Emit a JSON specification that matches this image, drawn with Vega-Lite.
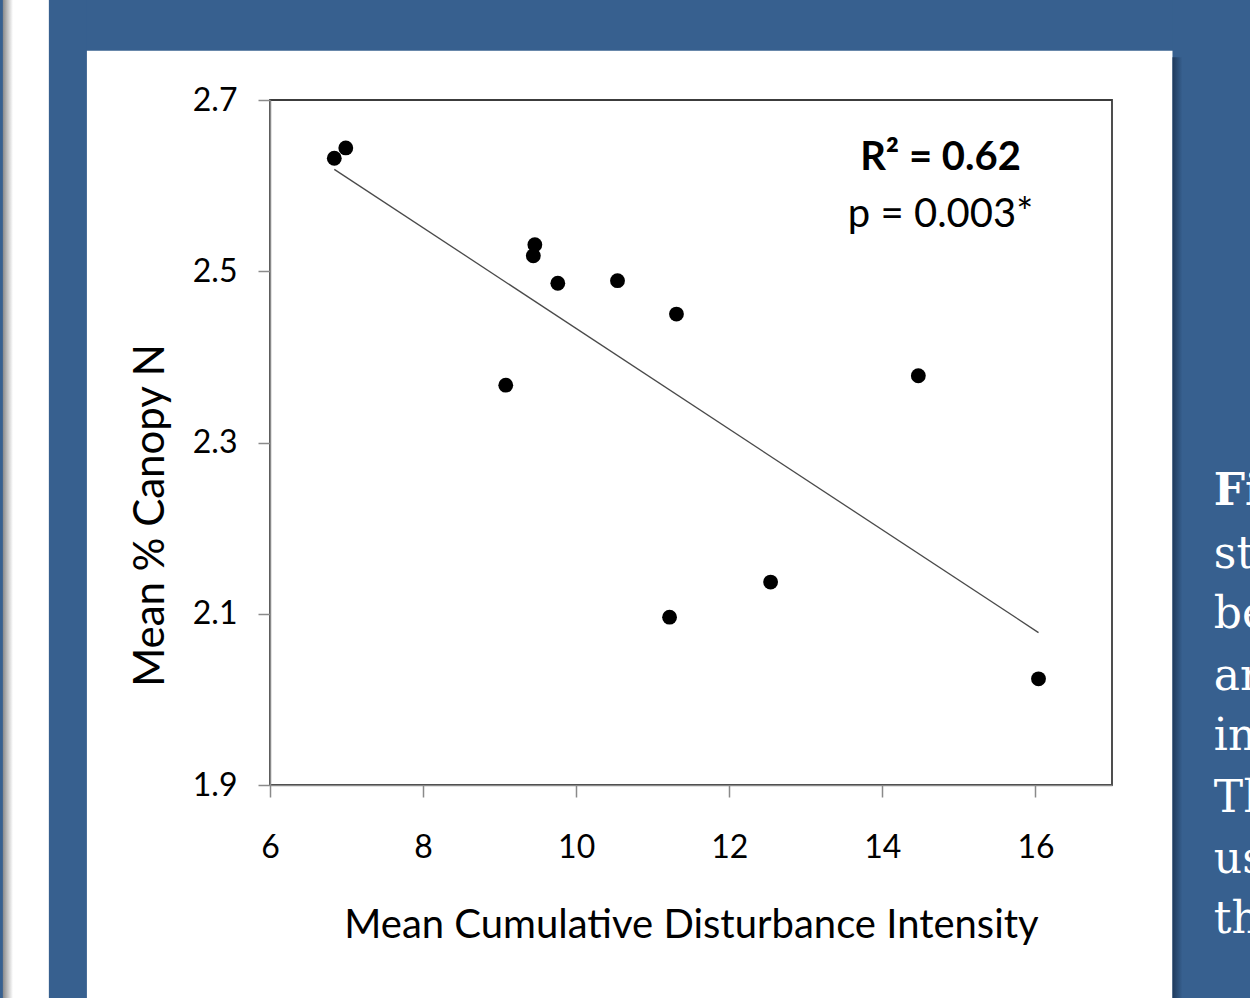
{
  "$schema": "https://vega.github.io/schema/vega-lite/v6.json",
  "width": 842,
  "height": 685,
  "autosize": {"type": "none"},
  "padding": {"left": 270, "top": 100, "right": 138, "bottom": 213},
  "background": "#ffffff",
  "config": {
    "view": {"stroke": "#3c3c3c", "strokeWidth": 1.8},
    "axis": {
      "grid": false, "tickSize": 12, "tickColor": "#8a8a8a", "tickWidth": 1.5,
      "domainColor": "#8a8a8a", "domainWidth": 1.5, "labelFlush": false, "labelOverlap": false,
      "labelFont": "Lato", "labelFontSize": 32, "labelColor": "#000000",
      "titleFont": "Lato", "titleFontSize": 40, "titleFontWeight": "normal", "titleColor": "#000000"
    },
    "axisX": {"labelPadding": 35, "titlePadding": 42},
    "axisY": {"labelPadding": 21, "titlePadding": 20, "titleY": 415, "titleFontSize": 42}
  },
  "datasets": {
    "points": [
      {"disturbance": 6.84, "canopyN": 2.632},
      {"disturbance": 6.99, "canopyN": 2.644},
      {"disturbance": 9.08, "canopyN": 2.367},
      {"disturbance": 9.44, "canopyN": 2.518},
      {"disturbance": 9.46, "canopyN": 2.531},
      {"disturbance": 9.76, "canopyN": 2.486},
      {"disturbance": 10.54, "canopyN": 2.489},
      {"disturbance": 11.31, "canopyN": 2.45},
      {"disturbance": 11.22, "canopyN": 2.096},
      {"disturbance": 12.54, "canopyN": 2.137},
      {"disturbance": 14.47, "canopyN": 2.378},
      {"disturbance": 16.04, "canopyN": 2.024}
    ],
    "trend": [
      {"disturbance": 6.84, "canopyN": 2.619},
      {"disturbance": 16.04, "canopyN": 2.078}
    ],
    "stats": [
      {"label": "R² = 0.62", "disturbance": 14.76, "canopyN": 2.632, "kind": "r2"},
      {"label": "p = 0.003*", "disturbance": 14.76, "canopyN": 2.566, "kind": "p"}
    ],
    "caption": [
      {"line": "Figure 2.", "disturbance": 18.33, "canopyN": 2.2271, "bold": true},
      {"line": "strong", "disturbance": 18.33, "canopyN": 2.1535, "bold": false},
      {"line": "between", "disturbance": 18.33, "canopyN": 2.0834, "bold": false},
      {"line": "and", "disturbance": 18.33, "canopyN": 2.011, "bold": false},
      {"line": "intensity.", "disturbance": 18.33, "canopyN": 1.9409, "bold": false},
      {"line": "The", "disturbance": 18.33, "canopyN": 1.8685, "bold": false},
      {"line": "used", "disturbance": 18.33, "canopyN": 1.7972, "bold": false},
      {"line": "the", "disturbance": 18.33, "canopyN": 1.7271, "bold": false}
    ]
  },
  "layer": [
    {
      "data": {"values": [{}]},
      "mark": {"type": "rect", "fill": "#37608f"},
      "encoding": {
        "x": {"datum": 2.4706, "type": "quantitative", "scale": {"domain": [6, 17], "nice": false, "zero": false}, "axis": {"values": [6, 8, 10, 12, 14, 16], "title": "Mean Cumulative Disturbance Intensity"}},
        "x2": {"datum": 18.81},
        "y": {"datum": 2.817, "type": "quantitative", "scale": {"domain": [1.9, 2.7], "nice": false, "zero": false}, "axis": {"values": [1.9, 2.1, 2.3, 2.5, 2.7], "format": ".1f", "title": "Mean % Canopy N"}},
        "y2": {"datum": 2.7575}
      }
    },
    {
      "data": {"values": [{}]},
      "mark": {"type": "rect", "fill": "#37608f"},
      "encoding": {
        "x": {"datum": 2.4706, "type": "quantitative", "scale": {"domain": [6, 17], "nice": false, "zero": false}, "axis": {"values": [6, 8, 10, 12, 14, 16], "title": "Mean Cumulative Disturbance Intensity"}},
        "x2": {"datum": 3.608},
        "y": {"datum": 2.817, "type": "quantitative", "scale": {"domain": [1.9, 2.7], "nice": false, "zero": false}, "axis": {"values": [1.9, 2.1, 2.3, 2.5, 2.7], "format": ".1f", "title": "Mean % Canopy N"}},
        "y2": {"datum": 1.651}
      }
    },
    {
      "data": {"values": [{}]},
      "mark": {"type": "rect", "fill": "#37608f"},
      "encoding": {
        "x": {"datum": 17.79, "type": "quantitative", "scale": {"domain": [6, 17], "nice": false, "zero": false}, "axis": {"values": [6, 8, 10, 12, 14, 16], "title": "Mean Cumulative Disturbance Intensity"}},
        "x2": {"datum": 18.81},
        "y": {"datum": 2.817, "type": "quantitative", "scale": {"domain": [1.9, 2.7], "nice": false, "zero": false}, "axis": {"values": [1.9, 2.1, 2.3, 2.5, 2.7], "format": ".1f", "title": "Mean % Canopy N"}},
        "y2": {"datum": 1.651}
      }
    },
    {
      "data": {"values": [{}]},
      "mark": {"type": "rect", "fill": {"gradient": "linear", "x1": 0, "x2": 1, "y1": 0, "y2": 0, "stops": [{"offset": 0, "color": "#8a8a8a"}, {"offset": 0.22, "color": "#ffffff"}, {"offset": 1, "color": "#ffffff"}]}},
      "encoding": {
        "x": {"datum": 2.51, "type": "quantitative", "scale": {"domain": [6, 17], "nice": false, "zero": false}, "axis": {"values": [6, 8, 10, 12, 14, 16], "title": "Mean Cumulative Disturbance Intensity"}},
        "x2": {"datum": 3.111},
        "y": {"datum": 2.817, "type": "quantitative", "scale": {"domain": [1.9, 2.7], "nice": false, "zero": false}, "axis": {"values": [1.9, 2.1, 2.3, 2.5, 2.7], "format": ".1f", "title": "Mean % Canopy N"}},
        "y2": {"datum": 1.651}
      }
    },
    {
      "data": {"values": [{}]},
      "mark": {"type": "rect", "fill": {"gradient": "linear", "x1": 0, "x2": 1, "y1": 0, "y2": 0, "stops": [{"offset": 0, "color": "#1f3a5c"}, {"offset": 1, "color": "#37608f"}]}},
      "encoding": {
        "x": {"datum": 17.79, "type": "quantitative", "scale": {"domain": [6, 17], "nice": false, "zero": false}, "axis": {"values": [6, 8, 10, 12, 14, 16], "title": "Mean Cumulative Disturbance Intensity"}},
        "x2": {"datum": 17.92},
        "y": {"datum": 2.75, "type": "quantitative", "scale": {"domain": [1.9, 2.7], "nice": false, "zero": false}, "axis": {"values": [1.9, 2.1, 2.3, 2.5, 2.7], "format": ".1f", "title": "Mean % Canopy N"}},
        "y2": {"datum": 1.651}
      }
    },
    {
      "data": {"name": "trend"},
      "mark": {"type": "line", "stroke": "#4a4a4a", "strokeWidth": 1.3},
      "encoding": {
        "x": {"field": "disturbance", "type": "quantitative", "scale": {"domain": [6, 17], "nice": false, "zero": false}, "axis": {"values": [6, 8, 10, 12, 14, 16], "title": "Mean Cumulative Disturbance Intensity"}},
        "y": {"field": "canopyN", "type": "quantitative", "scale": {"domain": [1.9, 2.7], "nice": false, "zero": false}, "axis": {"values": [1.9, 2.1, 2.3, 2.5, 2.7], "format": ".1f", "title": "Mean % Canopy N"}}
      }
    },
    {
      "data": {"name": "points"},
      "mark": {"type": "circle", "size": 220, "color": "#000000", "opacity": 1},
      "encoding": {
        "x": {"field": "disturbance", "type": "quantitative", "scale": {"domain": [6, 17], "nice": false, "zero": false}, "axis": {"values": [6, 8, 10, 12, 14, 16], "title": "Mean Cumulative Disturbance Intensity"}},
        "y": {"field": "canopyN", "type": "quantitative", "scale": {"domain": [1.9, 2.7], "nice": false, "zero": false}, "axis": {"values": [1.9, 2.1, 2.3, 2.5, 2.7], "format": ".1f", "title": "Mean % Canopy N"}}
      }
    },
    {
      "data": {"name": "stats"},
      "transform": [{"filter": "datum.kind === 'r2'"}],
      "mark": {"type": "text", "font": "Lato", "fontSize": 40, "fontWeight": "bold", "color": "#000000", "align": "center", "baseline": "middle"},
      "encoding": {
        "x": {"field": "disturbance", "type": "quantitative", "scale": {"domain": [6, 17], "nice": false, "zero": false}, "axis": {"values": [6, 8, 10, 12, 14, 16], "title": "Mean Cumulative Disturbance Intensity"}},
        "y": {"field": "canopyN", "type": "quantitative", "scale": {"domain": [1.9, 2.7], "nice": false, "zero": false}, "axis": {"values": [1.9, 2.1, 2.3, 2.5, 2.7], "format": ".1f", "title": "Mean % Canopy N"}},
        "text": {"field": "label"}
      }
    },
    {
      "data": {"name": "stats"},
      "transform": [{"filter": "datum.kind === 'p'"}],
      "mark": {"type": "text", "font": "Lato", "fontSize": 40, "fontWeight": "normal", "color": "#000000", "align": "center", "baseline": "middle"},
      "encoding": {
        "x": {"field": "disturbance", "type": "quantitative", "scale": {"domain": [6, 17], "nice": false, "zero": false}, "axis": {"values": [6, 8, 10, 12, 14, 16], "title": "Mean Cumulative Disturbance Intensity"}},
        "y": {"field": "canopyN", "type": "quantitative", "scale": {"domain": [1.9, 2.7], "nice": false, "zero": false}, "axis": {"values": [1.9, 2.1, 2.3, 2.5, 2.7], "format": ".1f", "title": "Mean % Canopy N"}},
        "text": {"field": "label"}
      }
    },
    {
      "data": {"name": "caption"},
      "transform": [{"filter": "datum.bold"}],
      "mark": {"type": "text", "font": "DejaVu Serif", "fontSize": 44, "fontWeight": "bold", "color": "#ffffff", "align": "left", "baseline": "alphabetic"},
      "encoding": {
        "x": {"field": "disturbance", "type": "quantitative", "scale": {"domain": [6, 17], "nice": false, "zero": false}, "axis": {"values": [6, 8, 10, 12, 14, 16], "title": "Mean Cumulative Disturbance Intensity"}},
        "y": {"field": "canopyN", "type": "quantitative", "scale": {"domain": [1.9, 2.7], "nice": false, "zero": false}, "axis": {"values": [1.9, 2.1, 2.3, 2.5, 2.7], "format": ".1f", "title": "Mean % Canopy N"}},
        "text": {"field": "line"}
      }
    },
    {
      "data": {"name": "caption"},
      "transform": [{"filter": "!datum.bold"}],
      "mark": {"type": "text", "font": "DejaVu Serif", "fontSize": 44, "fontWeight": "normal", "color": "#ffffff", "align": "left", "baseline": "alphabetic"},
      "encoding": {
        "x": {"field": "disturbance", "type": "quantitative", "scale": {"domain": [6, 17], "nice": false, "zero": false}, "axis": {"values": [6, 8, 10, 12, 14, 16], "title": "Mean Cumulative Disturbance Intensity"}},
        "y": {"field": "canopyN", "type": "quantitative", "scale": {"domain": [1.9, 2.7], "nice": false, "zero": false}, "axis": {"values": [1.9, 2.1, 2.3, 2.5, 2.7], "format": ".1f", "title": "Mean % Canopy N"}},
        "text": {"field": "line"}
      }
    }
  ]
}
